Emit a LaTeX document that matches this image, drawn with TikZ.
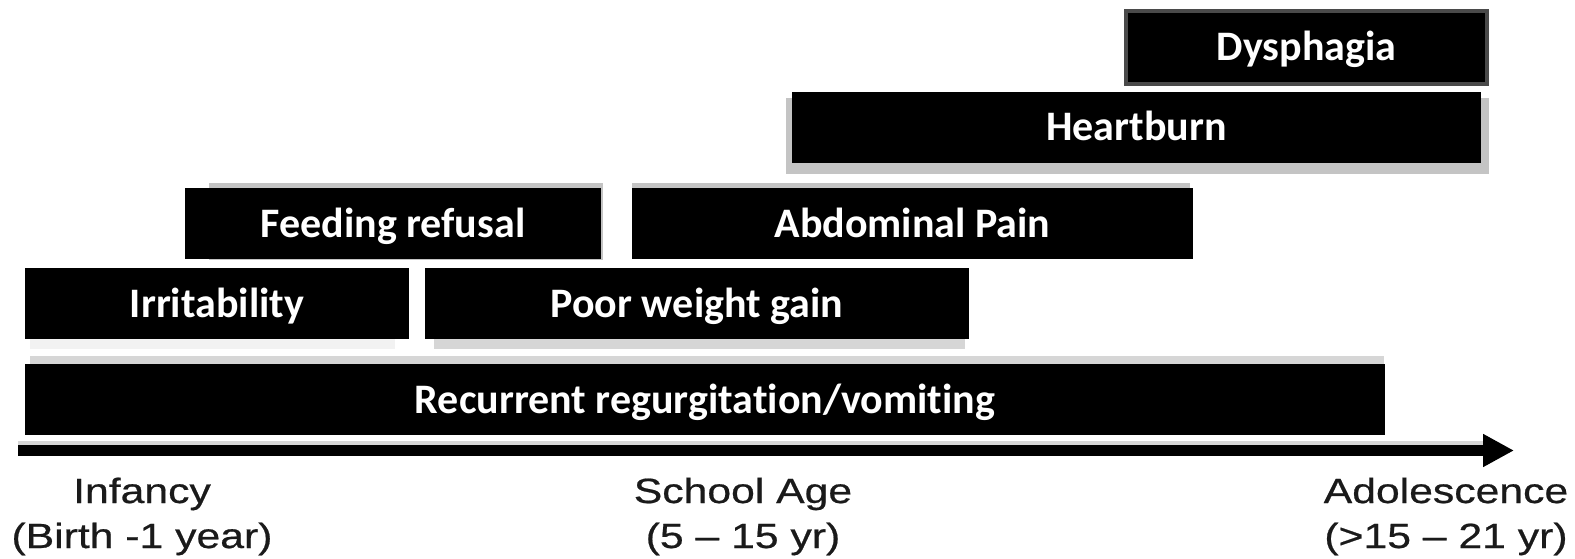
\documentclass[tikz,border=0pt]{standalone}
\usepackage{fontspec}
\usetikzlibrary{arrows.meta}
\newfontfamily\boxfont{Carlito}[Ligatures={NoCommon}]
\newfontfamily\axisfont{Liberation Sans}[FakeStretch=1.22,FakeBold=0.6]
\definecolor{shadowA}{HTML}{C4C4C4}
\definecolor{shadowB}{HTML}{D6D6D6}
\definecolor{shadowC}{HTML}{F2F2F2}
\definecolor{frameD}{HTML}{4A4A4A}
\definecolor{axistext}{HTML}{1A1A1A}
\tikzset{
  symbox/.style={fill=black, draw=none, inner sep=0pt, text=white,
    font=\boxfont\bfseries\fontsize{42}{42}\selectfont,
    text height=27pt, text depth=0pt, anchor=center},
  axislabel/.style={inner sep=0pt, anchor=base, text=axistext,
    font=\axisfont\fontsize{35}{35}\selectfont},
}
\begin{document}
\begin{tikzpicture}[x=1pt,y=-1pt]
\useasboundingbox[fill=white] (0,0) rectangle (1575,559);
% shadows
\fill[shadowA] (786,98) rectangle (1489,174);
\fill[shadowA] (209,183) rectangle (603,260);
\fill[shadowA] (632,183) rectangle (1190,259);
\fill[shadowC] (30,339) rectangle (395,349);
\fill[shadowB] (434,339) rectangle (965,349);
\fill[shadowB] (30,356) rectangle (1384,364);
\fill[shadowB] (18,441) rectangle (1487,445);
% boxes
\node[symbox, draw=frameD, line width=4pt, minimum width=361pt, minimum height=73pt] (dys) at (1306.5,47.5) {Dysphagia};
\node[symbox, minimum width=689pt, minimum height=71pt] (heart) at (1136.5,127.5) {Heartburn};
\node[symbox, minimum width=416pt, minimum height=71pt] (feed) at (393,223.5) {Feeding refusal};
\node[symbox, minimum width=561pt, minimum height=71pt] (abd) at (912.5,223.5) {Abdominal Pain};
\node[symbox, minimum width=384pt, minimum height=71pt] (irr) at (217,303.5) {Irritability};
\node[symbox, minimum width=544pt, minimum height=71pt] (poor) at (697,303.5) {Poor weight gain};
\node[symbox, minimum width=1360pt, minimum height=71pt] (rec) at (705,399.5) {Recurrent regurgitation/vomiting};
% axis
\coordinate (astart) at (18,450.5);
\coordinate (aend) at (1514,450.5);
\draw[line width=11pt, -{Triangle[length=31pt,width=31pt]}] (astart) -- (aend);
% labels
\node[axislabel] (inf1) at (142,503) {Infancy};
\node[axislabel] (inf2) at (142,548) {(Birth -1 year)};
\node[axislabel] (sch1) at (743,503) {School Age};
\node[axislabel] (sch2) at (743,548) {(5 – 15 yr)};
\node[axislabel] (ado1) at (1446,503) {Adolescence};
\node[axislabel] (ado2) at (1446,548) {(>15 – 21 yr)};
\end{tikzpicture}
\end{document}
